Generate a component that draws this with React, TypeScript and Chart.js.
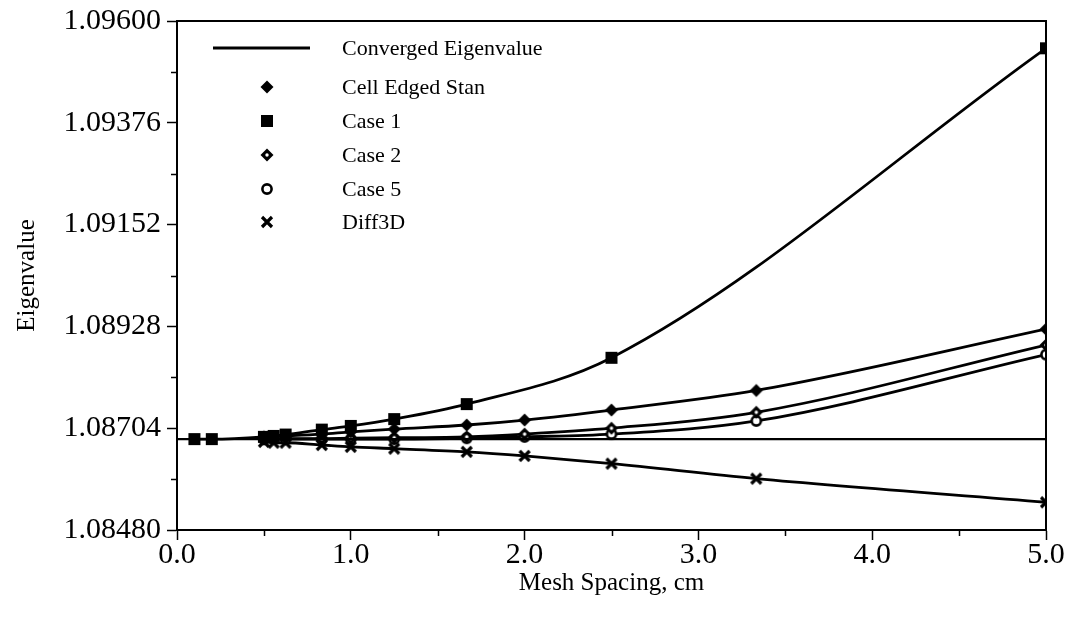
import React, { useEffect, useRef } from "react";
import { Chart, registerables } from "chart.js";

Chart.register(...registerables);

// ---- data ----
const convergedX = [0.0, 5.0];
const convergedY = [1.0868, 1.0868];

const case1X = [0.1, 0.2, 0.5, 0.556, 0.625, 0.833, 1.0, 1.25, 1.667, 2.5, 5.0];
const case1Y = [1.0868, 1.0868, 1.08685, 1.08687, 1.0869, 1.08701, 1.08709, 1.08724, 1.08757, 1.08859, 1.09540];

const cellX = [0.5, 0.625, 0.833, 1.0, 1.25, 1.667, 2.0, 2.5, 3.333, 5.0];
const cellY = [1.08685, 1.08687, 1.08691, 1.08696, 1.08702, 1.08711, 1.08722, 1.08744, 1.08787, 1.08922];

const case2X = [0.5, 0.625, 0.833, 1.0, 1.25, 1.667, 2.0, 2.5, 3.333, 5.0];
const case2Y = [1.0868, 1.08681, 1.08681, 1.08682, 1.08683, 1.08685, 1.08691, 1.08704, 1.08739, 1.08887];

const case5X = [0.5, 0.625, 0.833, 1.0, 1.25, 1.667, 2.0, 2.5, 3.333, 5.0];
const case5Y = [1.0868, 1.0868, 1.0868, 1.0868, 1.0868, 1.08682, 1.08685, 1.08691, 1.0872, 1.08866];

const diffX = [0.5, 0.556, 0.625, 0.833, 1.0, 1.25, 1.667, 2.0, 2.5, 3.333, 5.0];
const diffY = [1.08674, 1.08672, 1.08672, 1.08667, 1.08663, 1.08659, 1.08652, 1.08643, 1.08626, 1.08593, 1.08541];

const yTickLabels = ["1.08480", "1.08704", "1.08928", "1.09152", "1.09376", "1.09600"];
const xTickLabels = ["0.0", "1.0", "2.0", "3.0", "4.0", "5.0"];

const legendLabels = ["Converged Eigenvalue", "Cell Edged Stan", "Case 1", "Case 2", "Case 5", "Diff3D"];

const FONT = '"Liberation Serif", "Times New Roman", serif';

function pts(xs: number[], ys: number[]) {
  return xs.map((x, i) => ({ x, y: ys[i] }));
}

function makeMarker(kind: string): HTMLCanvasElement {
  const c = document.createElement("canvas");
  c.width = 16;
  c.height = 16;
  const g = c.getContext("2d")!;
  g.fillStyle = "#000";
  g.strokeStyle = "#000";
  const m = 8;
  if (kind === "diamond" || kind === "diamondDot") {
    g.beginPath();
    g.moveTo(m, m - 6.5);
    g.lineTo(m + 6.5, m);
    g.lineTo(m, m + 6.5);
    g.lineTo(m - 6.5, m);
    g.closePath();
    g.fill();
    if (kind === "diamondDot") {
      g.fillStyle = "#fff";
      g.beginPath();
      g.arc(m, m, 1.7, 0, Math.PI * 2);
      g.fill();
    }
  } else if (kind === "square") {
    g.fillRect(m - 6, m - 6, 12, 12);
  } else if (kind === "circle") {
    g.fillStyle = "#fff";
    g.lineWidth = 2.6;
    g.beginPath();
    g.arc(m, m, 4.6, 0, Math.PI * 2);
    g.fill();
    g.stroke();
  } else if (kind === "cross") {
    g.lineWidth = 3.2;
    g.lineCap = "butt";
    g.beginPath();
    g.moveTo(m - 5, m - 5);
    g.lineTo(m + 5, m + 5);
    g.moveTo(m + 5, m - 5);
    g.lineTo(m - 5, m + 5);
    g.stroke();
  }
  return c;
}

export default function App() {
  const ref = useRef<HTMLCanvasElement | null>(null);

  useEffect(() => {
    if (!ref.current) return;
    const mk = {
      cell: makeMarker("diamond"),
      c1: makeMarker("square"),
      c2: makeMarker("diamondDot"),
      c5: makeMarker("circle"),
      diff: makeMarker("cross"),
    };
    const legendMarkers = [null, mk.cell, mk.c1, mk.c2, mk.c5, mk.diff];

    const yMajor = yTickLabels.map((s) => parseFloat(s));
    const yTicks: number[] = [];
    yMajor.forEach((v, i) => {
      yTicks.push(v);
      if (i < yMajor.length - 1) yTicks.push((v + yMajor[i + 1]) / 2);
    });
    const xMajor = xTickLabels.map((s) => parseFloat(s));
    const xTicks: number[] = [];
    xMajor.forEach((v, i) => {
      xTicks.push(v);
      if (i < xMajor.length - 1) xTicks.push((v + xMajor[i + 1]) / 2);
    });
    const isMajor = (vals: number[], v: number) => vals.some((m) => Math.abs(m - v) < 1e-9);

    const framePlugin = {
      id: "frame",
      afterDraw(chart: any) {
        const { ctx, chartArea: a, scales } = chart;
        ctx.save();
        ctx.strokeStyle = "#000";
        ctx.lineWidth = 2;
        ctx.strokeRect(a.left, a.top, a.right - a.left, a.bottom - a.top);
        // minor ticks
        ctx.lineWidth = 1.5;
        ctx.beginPath();
        yTicks.forEach((v) => {
          if (isMajor(yMajor, v)) return;
          const y = Math.round(scales.y.getPixelForValue(v)) + 0.5;
          ctx.moveTo(a.left - 6, y);
          ctx.lineTo(a.left, y);
        });
        xTicks.forEach((v) => {
          if (isMajor(xMajor, v)) return;
          const x = Math.round(scales.x.getPixelForValue(v)) + 0.5;
          ctx.moveTo(x, a.bottom);
          ctx.lineTo(x, a.bottom + 6);
        });
        ctx.stroke();

        // legend
        const lx = 342;
        const rows = [48, 87, 121, 155, 189, 222];
        ctx.font = "22px " + FONT;
        ctx.fillStyle = "#000";
        ctx.textBaseline = "middle";
        ctx.textAlign = "left";
        legendLabels.forEach((t, i) => {
          const y = rows[i];
          if (i === 0) {
            ctx.lineWidth = 2.8;
            ctx.beginPath();
            ctx.moveTo(213, y);
            ctx.lineTo(310, y);
            ctx.stroke();
          } else {
            const im = legendMarkers[i] as HTMLCanvasElement;
            ctx.drawImage(im, 267 - im.width / 2, y - im.height / 2);
          }
          ctx.fillText(t, lx, y + 1);
        });
        ctx.restore();
      },
    };

    const lineDs = (label: string, data: any[], marker: any) => ({
      label,
      data,
      showLine: true,
      borderColor: "#000",
      backgroundColor: "#000",
      borderWidth: 2.8,
      cubicInterpolationMode: "monotone",
      pointStyle: marker,
      pointRadius: 6,
      pointHoverRadius: 6,
    });

    const chart = new Chart(ref.current, {
      type: "scatter",
      data: {
        datasets: [
          {
            label: legendLabels[0],
            data: pts(convergedX, convergedY),
            showLine: true,
            borderColor: "#000",
            borderWidth: 2.2,
            pointRadius: 0,
          } as any,
          lineDs(legendLabels[1], pts(cellX, cellY), mk.cell),
          lineDs(legendLabels[2], pts(case1X, case1Y), mk.c1),
          lineDs(legendLabels[3], pts(case2X, case2Y), mk.c2),
          lineDs(legendLabels[4], pts(case5X, case5Y), mk.c5),
          lineDs(legendLabels[5], pts(diffX, diffY), mk.diff),
        ],
      },
      options: {
        animation: false,
        responsive: true,
        maintainAspectRatio: false,
        events: [],
        layout: { padding: { top: 16, right: 30, left: 0, bottom: 0 } },
        plugins: { legend: { display: false }, tooltip: { enabled: false } },
        scales: {
          x: {
            type: "linear",
            min: 0,
            max: 5,
            afterBuildTicks: (s: any) => {
              s.ticks = xTicks.map((v) => ({ value: v }));
            },
            afterFit: (s: any) => {
              s.height = 99;
            },
            ticks: {
              autoSkip: false,
              maxRotation: 0,
              padding: 0,
              color: "#000",
              font: { family: FONT, size: 30, lineHeight: 1.0 },
              callback: (v: any) => {
                const i = xMajor.findIndex((m) => Math.abs(m - v) < 1e-9);
                return i >= 0 ? xTickLabels[i] : "";
              },
            },
            grid: {
              drawOnChartArea: false,
              drawTicks: true,
              tickLength: 10,
              tickWidth: 1.5,
              tickColor: (c: any) => (c.tick && isMajor(xMajor, c.tick.value) ? "#000" : "rgba(0,0,0,0)"),
            },
            border: { color: "#000", width: 2 },
            title: {
              display: true,
              text: "Mesh Spacing, cm",
              color: "#000",
              font: { family: FONT, size: 25 },
              padding: { top: 0, bottom: 31 },
            },
          },
          y: {
            type: "linear",
            min: 1.0848,
            max: 1.096,
            afterBuildTicks: (s: any) => {
              s.ticks = yTicks.map((v) => ({ value: v }));
            },
            afterFit: (s: any) => {
              s.width = 177;
            },
            ticks: {
              autoSkip: false,
              padding: 6,
              color: "#000",
              font: { family: FONT, size: 30, lineHeight: 1.0 },
              callback: (v: any) => {
                const i = yMajor.findIndex((m) => Math.abs(m - v) < 1e-9);
                return i >= 0 ? yTickLabels[i] : "";
              },
            },
            grid: {
              drawOnChartArea: false,
              drawTicks: true,
              tickLength: 10,
              tickWidth: 1.5,
              tickColor: (c: any) => (c.tick && isMajor(yMajor, c.tick.value) ? "#000" : "rgba(0,0,0,0)"),
            },
            border: { color: "#000", width: 2 },
            title: {
              display: true,
              text: "Eigenvalue",
              color: "#000",
              font: { family: FONT, size: 25 },
              padding: { top: 12, bottom: 0 },
            },
          },
        },
      } as any,
      plugins: [framePlugin],
    });
    return () => chart.destroy();
  }, []);

  return (
    <div style={{ position: "absolute", left: 0, top: 0, width: 1076, height: 629, background: "#fff" }}>
      <canvas ref={ref} />
    </div>
  );
}
